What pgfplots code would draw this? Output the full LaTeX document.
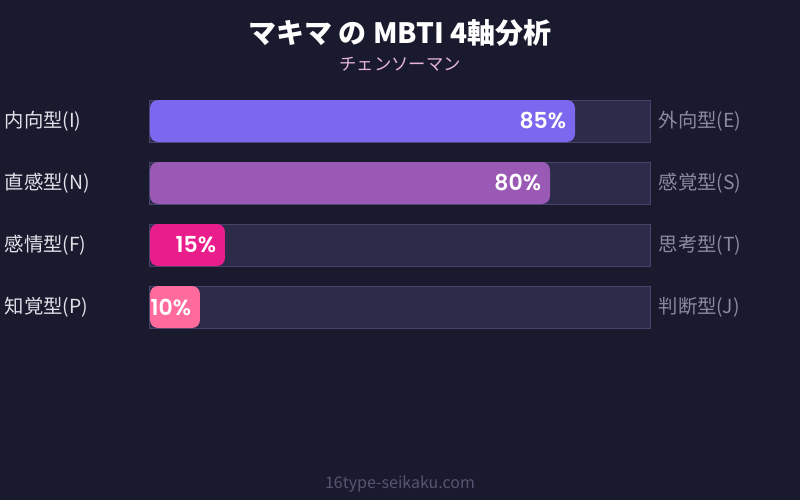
\documentclass[border=0pt]{standalone}
\usepackage{fontspec}
\setmainfont{Noto Sans CJK JP}
\newfontfamily\pop{Poppins}[UprightFont=* SemiBold]
\usepackage{pgfplots}
\pgfplotsset{compat=1.18}
\definecolor{bg}{HTML}{1A1A2E}
\definecolor{track}{HTML}{2D2B4A}
\definecolor{trackb}{HTML}{46446A}
\definecolor{cA}{HTML}{7B68EE}
\definecolor{cB}{HTML}{9B59B6}
\definecolor{cC}{HTML}{E91E8C}
\definecolor{cD}{HTML}{FF6B9D}
\definecolor{subc}{HTML}{E8B4D8}
\definecolor{labl}{HTML}{E0E0E8}
\definecolor{labr}{HTML}{8A8AA0}
\definecolor{footc}{HTML}{555572}
\begin{document}
\begin{tikzpicture}[x=0.75pt,y=0.75pt]
\fill[bg] (0,0) rectangle (800,500);
\useasboundingbox (0,0) rectangle (800,500);
\node[font=\bfseries\fontsize{21}{24}\selectfont, text=white] at (400,467) {マキマ の MBTI 4軸分析};
\node[font=\fontsize{13}{15}\selectfont, text=subc] at (400,436) {チェンソーマン};
\node[font=\fontsize{12}{14}\selectfont, text=footc] at (400,16) {16type-seikaku.com};
\begin{axis}[
  at={(112.5pt,121.5pt)}, anchor=south west,
  scale only axis, width=375pt, height=186pt,
  xmin=0, xmax=100, ymin=-0.5, ymax=3.5, y dir=reverse,
  axis lines=none, clip=false,
  /pgf/number format/assume math mode=true,
  xbar, bar width=31.5pt, /pgf/bar shift=0pt,
  every node near coord/.append style={anchor=east, inner sep=0pt, xshift=-6.5pt, text=white, font=\pop\fontsize{16.5}{19}\selectfont},
]
\addplot[fill=track, draw=trackb, line width=0.75pt] coordinates {(100,0) (100,1) (100,2) (100,3)};
\addplot[fill=cA, draw=none, rounded corners=6pt, point meta=x, nodes near coords={\pgfmathprintnumber{\pgfplotspointmeta}\%}] coordinates {(85,0)};
\addplot[fill=cB, draw=none, rounded corners=6pt, point meta=x, nodes near coords={\pgfmathprintnumber{\pgfplotspointmeta}\%}] coordinates {(80,1)};
\addplot[fill=cC, draw=none, rounded corners=6pt, point meta=x, nodes near coords={\pgfmathprintnumber{\pgfplotspointmeta}\%}] coordinates {(15,2)};
\addplot[fill=cD, draw=none, rounded corners=6pt, point meta=x, nodes near coords={\pgfmathprintnumber{\pgfplotspointmeta}\%}] coordinates {(10,3)};
\begin{scope}[font=\fontsize{14.5}{17}\selectfont]
\node[anchor=west, text=labl] at (axis cs:-30,0) {内向型(I)};
\node[anchor=west, text=labl] at (axis cs:-30,1) {直感型(N)};
\node[anchor=west, text=labl] at (axis cs:-30,2) {感情型(F)};
\node[anchor=west, text=labl] at (axis cs:-30,3) {知覚型(P)};
\node[anchor=west, text=labr] at (axis cs:100.8,0) {外向型(E)};
\node[anchor=west, text=labr] at (axis cs:100.8,1) {感覚型(S)};
\node[anchor=west, text=labr] at (axis cs:100.8,2) {思考型(T)};
\node[anchor=west, text=labr] at (axis cs:100.8,3) {判断型(J)};
\end{scope}
\end{axis}
\end{tikzpicture}
\end{document}
